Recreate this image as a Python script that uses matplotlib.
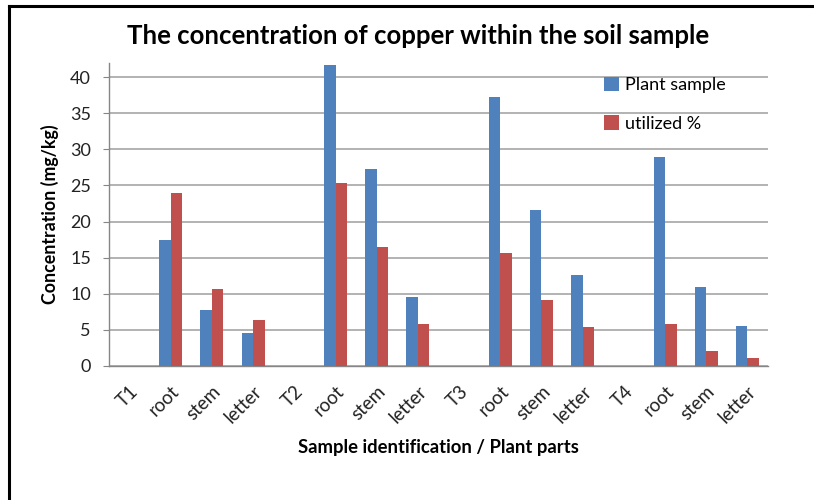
import numpy as np
import matplotlib
matplotlib.use("Agg")
from matplotlib import pyplot as plt
from matplotlib.lines import Line2D

plt.rcParams['font.family'] = ['Lato', 'DejaVu Sans']

# categories along the x axis
categories = ['T1', 'root', 'stem', 'letter',
              'T2', 'root', 'stem', 'letter',
              'T3', 'root', 'stem', 'letter',
              'T4', 'root', 'stem', 'letter']
# sample rows (T1..T4) carry no values
plant_sample = [np.nan, 17.5, 7.8, 4.6,
                np.nan, 41.7, 27.3, 9.5,
                np.nan, 37.2, 21.6, 12.6,
                np.nan, 28.9, 11.0, 5.6]
utilized_pct = [np.nan, 23.9, 10.6, 6.4,
                np.nan, 25.3, 16.5, 5.8,
                np.nan, 15.7, 9.1, 5.4,
                np.nan, 5.8, 2.1, 1.1]
y_ticks = [0, 5, 10, 15, 20, 25, 30, 35, 40]

blue = '#4F81BD'
red = '#C0504D'
axis_gray = '#868686'
grid_gray = '#A6A6A6'

fig = plt.figure(figsize=(8.14, 5.0), dpi=100)
ax = fig.add_axes([0.1339, 0.268, 0.8096, 0.6066])

x = np.arange(len(categories))
w = 0.28
ax.bar(x - w / 2, plant_sample, width=w, color=blue, label='Plant sample', zorder=3)
ax.bar(x + w / 2, utilized_pct, width=w, color=red, label='utilized %', zorder=3)

ax.set_xlim(-0.5, len(categories) - 0.5)
ax.set_ylim(0, 42)
ax.set_yticks(y_ticks)
ax.set_xticks(x)
ax.set_xticklabels(categories, rotation=45, ha='right', va='top',
                   rotation_mode='anchor')
ax.yaxis.grid(True, color=grid_gray, linewidth=1.2, zorder=0)
ax.set_axisbelow(True)

for side in ['top', 'right']:
    ax.spines[side].set_visible(False)
for side in ['left', 'bottom']:
    ax.spines[side].set_color(axis_gray)
    ax.spines[side].set_linewidth(1.0)

ax.tick_params(axis='y', direction='out', length=4, color=axis_gray,
               labelsize=13, labelcolor='#222222', pad=9)
ax.tick_params(axis='x', length=0, labelsize=13.5, labelcolor='#222222', pad=12)

ax.set_ylabel('Concentration (mg/kg)', fontsize=12.8, fontweight='bold', labelpad=8)
ax.set_xlabel('Sample identification / Plant parts', fontsize=13.3,
              fontweight='bold', labelpad=9)

fig.text(0.514, 0.928, 'The concentration of copper within the soil sample',
         ha='center', va='center', fontsize=18.5, fontweight='bold')

ax.legend(loc='upper left', bbox_to_anchor=(0.742, 0.846),
          bbox_transform=fig.transFigure, frameon=False, fontsize=13,
          handlelength=0.85, handleheight=0.85, handletextpad=0.3,
          labelspacing=1.2, borderaxespad=0, borderpad=0)

# chart border (left and top only)
fig.add_artist(Line2D([0.011, 0.011], [0.0, 0.988], color='black', linewidth=2.2,
                      transform=fig.transFigure))
fig.add_artist(Line2D([0.011, 1.0], [0.988, 0.988], color='black', linewidth=2.2,
                      transform=fig.transFigure))

fig.savefig('out.png', dpi=100)
